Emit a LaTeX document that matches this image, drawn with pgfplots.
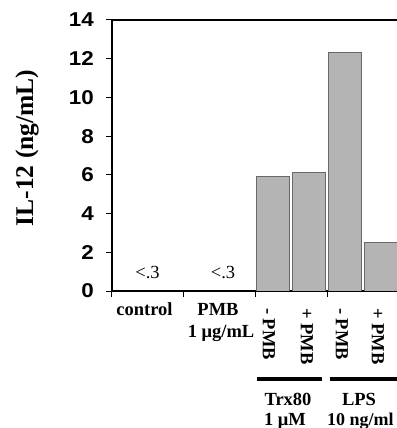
\documentclass[border=0pt]{standalone}
\usepackage{fontspec}
\setmainfont{Liberation Serif}
\newfontfamily\arialfont{Liberation Sans}
\usepackage{graphicx}
\usepackage{pgfplots}
\pgfplotsset{compat=1.18}
\definecolor{barfill}{RGB}{180,180,180}
\definecolor{baredge}{RGB}{105,105,105}
\begin{document}
\begin{tikzpicture}
\begin{axis}[
  at={(0,0)}, anchor=south west, scale only axis,
  width=285bp, height=271bp,
  xmin=0, xmax=7.92, ymin=0, ymax=14,
  axis lines=left, axis line style={-, line width=1.6bp, black},
  ytick={0,2,...,14}, xtick={0,2,4,6}, xticklabels={},
  tick align=outside, tick style={black, line width=1bp},
  major tick length=6bp,
  yticklabel={\scalebox{1.12}[1]{\arialfont\bfseries\fontsize{20bp}{20bp}\selectfont\pgfmathprintnumber{\tick}}},
  yticklabel style={inner sep=0pt, xshift=-12bp},
  /pgf/number format/assume math mode=true,
]
\addplot[ybar, bar width=0.92, fill=barfill, draw=baredge, line width=0.8bp]
  coordinates {(4.47,5.94) (5.47,6.11) (6.47,12.31) (7.47,2.49)};
\draw[line width=1.6bp] (rel axis cs:0,1) -- (rel axis cs:1,1);
\end{axis}
\begin{scope}[every node/.style={inner sep=0pt, font=\fontsize{18.5bp}{19bp}\selectfont}]
\node at (35.5bp,18bp) {<.3};
\node at (111bp,18bp) {<.3};
\node[anchor=base, font=\bfseries\fontsize{18.5bp}{19bp}\selectfont] at (32.5bp,-24bp) {control};
\node[anchor=base, font=\bfseries\fontsize{18.5bp}{19bp}\selectfont] at (106bp,-24bp) {PMB};
\node[anchor=base, font=\bfseries\fontsize{18.5bp}{19bp}\selectfont] at (109bp,-46bp) {1 μg/mL};
\node[anchor=west, rotate=-90, font=\bfseries\fontsize{18.5bp}{19bp}\selectfont] at (157bp,-17bp) {- PMB};
\node[anchor=west, rotate=-90, font=\bfseries\fontsize{18.5bp}{19bp}\selectfont] at (195bp,-17bp) {+ PMB};
\node[anchor=west, rotate=-90, font=\bfseries\fontsize{18.5bp}{19bp}\selectfont] at (230bp,-17bp) {- PMB};
\node[anchor=west, rotate=-90, font=\bfseries\fontsize{18.5bp}{19bp}\selectfont] at (266bp,-17bp) {+ PMB};
\draw[line width=3.5bp] (145bp,-88bp) -- (210bp,-88bp);
\draw[line width=3.5bp] (218bp,-88bp) -- (300bp,-88bp);
\node[anchor=base, font=\bfseries\fontsize{18.5bp}{19bp}\selectfont] at (176bp,-114bp) {Trx80};
\node[anchor=base, font=\bfseries\fontsize{18.5bp}{19bp}\selectfont] at (173bp,-134bp) {1 μM};
\node[anchor=base, font=\bfseries\fontsize{18.5bp}{19bp}\selectfont] at (247bp,-114bp) {LPS};
\node[anchor=base west, font=\bfseries\fontsize{18bp}{19bp}\selectfont] at (215bp,-134bp) {10 ng/ml};
\node[rotate=90, font=\bfseries\fontsize{25.5bp}{26bp}\selectfont] at (-85bp,143bp) {IL-12 (ng/mL)};
\end{scope}
\pgfresetboundingbox
\path[use as bounding box] (-112bp,-137bp) rectangle (285bp,291bp);
\end{tikzpicture}
\end{document}
